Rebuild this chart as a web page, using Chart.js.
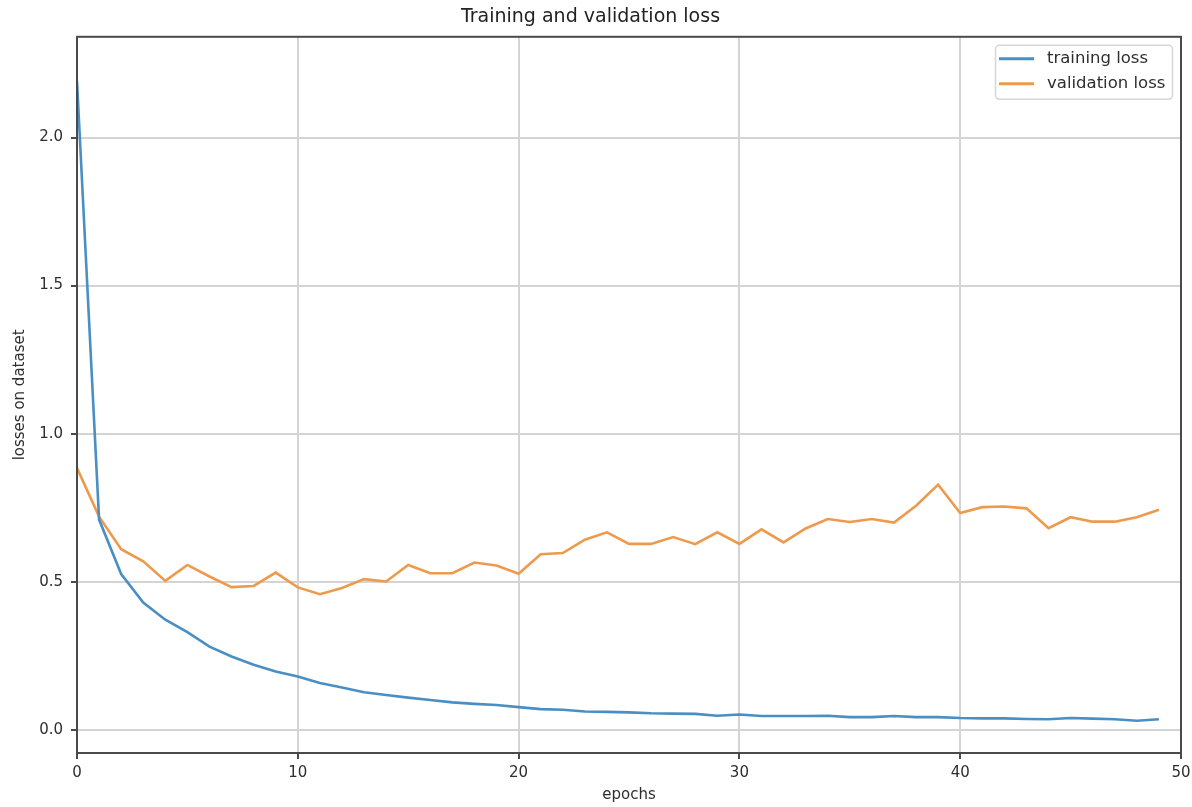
<!DOCTYPE html>
<html>
<head>
<meta charset="utf-8">
<script src="https://cdn.jsdelivr.net/npm/chart.js@4.4.1/dist/chart.umd.min.js"></script>
<style>
  html, body { margin: 0; padding: 0; background: #ffffff; }
  #wrap { width: 1192px; height: 807px; position: relative; }
</style>
</head>
<body>
<div id="wrap"><canvas id="c"></canvas></div>
<script>
// ---- data ----
const epochs = [0,1,2,3,4,5,6,7,8,9,10,11,12,13,14,15,16,17,18,19,20,21,22,23,24,25,26,27,28,29,30,31,32,33,34,35,36,37,38,39,40,41,42,43,44,45,46,47,48,49];
const trainingLoss = [2.19,0.71,0.526,0.43,0.372,0.33,0.281,0.248,0.22,0.197,0.18,0.158,0.143,0.127,0.118,0.109,0.101,0.093,0.088,0.084,0.077,0.07,0.068,0.062,0.061,0.059,0.056,0.055,0.054,0.048,0.052,0.047,0.047,0.047,0.048,0.043,0.043,0.047,0.043,0.043,0.04,0.039,0.039,0.037,0.036,0.04,0.038,0.036,0.031,0.036];
const validationLoss = [0.884,0.72,0.61,0.569,0.503,0.557,0.518,0.482,0.486,0.531,0.481,0.458,0.479,0.509,0.501,0.557,0.529,0.529,0.565,0.555,0.527,0.593,0.597,0.642,0.667,0.628,0.628,0.651,0.627,0.667,0.628,0.677,0.633,0.68,0.712,0.702,0.712,0.70,0.757,0.828,0.732,0.752,0.754,0.748,0.681,0.718,0.703,0.703,0.718,0.743];
const seriesNames = ['training loss', 'validation loss'];
const yTickValues = [0.0, 0.5, 1.0, 1.5, 2.0];
const yTickLabels = ['0.0', '0.5', '1.0', '1.5', '2.0'];
const xTickValues = [0, 10, 20, 30, 40, 50];
const xTickLabels = ['0', '10', '20', '30', '40', '50'];
const chartTitle = 'Training and validation loss';
const xTitle = 'epochs';
const yTitle = 'losses on dataset';

// ---- styles ----
const FONT = 'DejaVu Sans';
const BLUE = '#4a8fc4';
const ORANGE = '#ee9a4c';
const GRID = '#d4d4d4';
const SPINE = '#4a4a4a';
const TEXT = '#2e2e2e';

const toPoints = (ys) => ys.map((y, i) => ({ x: epochs[i], y: y }));

const framePlugin = {
  id: 'frame',
  afterDatasetsDraw(chart) {
    const { ctx, chartArea: a } = chart;
    ctx.save();
    ctx.strokeStyle = SPINE;
    ctx.lineWidth = 2;
    ctx.strokeRect(a.left, a.top, a.right - a.left, a.bottom - a.top);
    ctx.restore();
  }
};

const boxLegendPlugin = {
  id: 'boxLegend',
  afterDraw(chart) {
    const { ctx, chartArea: a } = chart;
    const w = 177, h = 54;
    const x = a.right - 9 - w, y = a.top + 8;
    ctx.save();
    ctx.beginPath();
    if (ctx.roundRect) ctx.roundRect(x + 0.5, y + 0.5, w, h, 4); else ctx.rect(x + 0.5, y + 0.5, w, h);
    ctx.fillStyle = 'rgba(255,255,255,0.85)';
    ctx.fill();
    ctx.strokeStyle = '#d6d6d6';
    ctx.lineWidth = 1.5;
    ctx.stroke();
    ctx.font = '16.5px "' + FONT + '"';
    ctx.textBaseline = 'middle';
    ctx.fillStyle = TEXT;
    chart.data.datasets.forEach((ds, i) => {
      const ry = y + 14 + i * 25;
      ctx.strokeStyle = ds.borderColor;
      ctx.lineWidth = 3;
      ctx.beginPath();
      ctx.moveTo(x + 4, ry);
      ctx.lineTo(x + 39, ry);
      ctx.stroke();
      ctx.fillText(ds.label, x + 52, ry);
    });
    ctx.restore();
  }
};

new Chart(document.getElementById('c'), {
  type: 'line',
  data: {
    datasets: [
      { label: seriesNames[0], data: toPoints(trainingLoss), borderColor: BLUE, backgroundColor: BLUE, borderWidth: 2.6, pointRadius: 0, tension: 0 },
      { label: seriesNames[1], data: toPoints(validationLoss), borderColor: ORANGE, backgroundColor: ORANGE, borderWidth: 2.6, pointRadius: 0, tension: 0 }
    ]
  },
  options: {
    responsive: true,
    maintainAspectRatio: false,
    animation: false,
    layout: { padding: { left: 0, right: 11, top: 0, bottom: 0 } },
    plugins: {
      legend: { display: false },
      tooltip: { enabled: false },
      title: {
        display: true,
        text: chartTitle,
        color: '#222222',
        font: { family: FONT, size: 19, weight: 'normal', lineHeight: 1.2 },
        padding: { top: 6, bottom: 8 }
      }
    },
    scales: {
      x: {
        type: 'linear',
        min: 0,
        max: 50,
        afterBuildTicks(scale) { scale.ticks = xTickValues.map(v => ({ value: v })); },
        afterFit(scale) { scale.height = 54; scale.paddingRight = 0; scale.paddingLeft = 0; },
        ticks: {
          color: TEXT,
          font: { family: FONT, size: 15 },
          padding: 5,
          maxRotation: 0,
          callback: (v) => xTickLabels[xTickValues.indexOf(v)]
        },
        grid: { color: GRID, lineWidth: 2, tickLength: 6, tickColor: SPINE, tickWidth: 2 },
        border: { color: SPINE, width: 2 },
        title: { display: true, text: xTitle, color: TEXT, font: { family: FONT, size: 15 }, padding: { top: 0, bottom: 3 } }
      },
      y: {
        type: 'linear',
        min: -0.078,
        max: 2.34,
        afterBuildTicks(scale) { scale.ticks = yTickValues.map(v => ({ value: v })); },
        afterFit(scale) { scale.width = 77; },
        ticks: {
          color: TEXT,
          font: { family: FONT, size: 15 },
          padding: 8,
          callback: (v) => yTickLabels[yTickValues.indexOf(v)]
        },
        grid: { color: GRID, lineWidth: 2, tickLength: 6, tickColor: SPINE, tickWidth: 2 },
        border: { color: SPINE, width: 2 },
        title: { display: true, text: yTitle, color: TEXT, font: { family: FONT, size: 15 }, padding: { top: 11, bottom: 0 } }
      }
    }
  },
  plugins: [framePlugin, boxLegendPlugin]
});
</script>
</body>
</html>
